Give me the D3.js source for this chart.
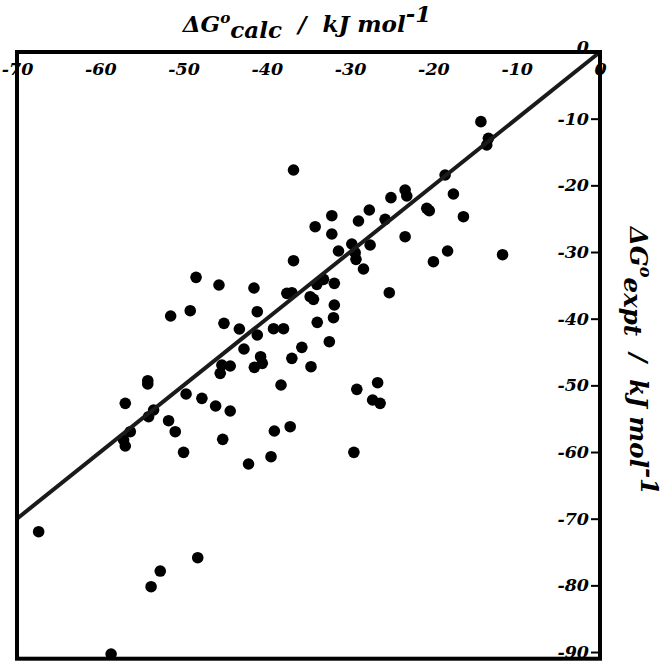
<!DOCTYPE html>
<html>
<head>
<meta charset="utf-8">
<script src="https://cdn.jsdelivr.net/npm/d3@7"></script>
<style>
  html, body { margin: 0; padding: 0; background: #fff; }
  svg { display: block; }
</style>
</head>
<body>
<svg id="chart" width="664" height="662"></svg>
<script>
// ---- data ----
const calcValues = [
  -14.3, -13.4, -13.6, -18.6, -17.6, -16.4, -11.7, -18.3, -20.0, -23.4,
  -23.2, -25.1, -20.8, -20.5, -23.4, -27.7, -25.8, -29.0, -32.2, -32.2,
  -34.2, -29.8, -29.4, -29.3, -27.6, -31.4, -28.4, -25.3, -31.9, -33.2,
  -34.0, -34.8, -34.4, -31.9, -32.0, -33.95, -32.5, -35.8, -34.7, -36.8,
  -36.8, -48.5, -45.75, -41.55, -37.6, -37.0, -51.55, -49.2, -41.15, -45.15,
  -43.3, -41.15, -39.2, -38.0, -42.75, -40.75, -40.55, -37.0, -45.4, -44.4,
  -41.5, -45.6, -49.7, -47.8, -46.15, -44.4, -51.8, -51.0, -54.3, -54.3,
  -53.6, -54.2, -57.0, -56.4, -57.2, -57.0, -45.3, -39.1, -37.2, -38.3,
  -29.2, -26.7, -27.3, -26.4, -29.55, -50.0, -42.2, -39.5, -67.4, -48.3,
  -52.8, -53.9, -58.7
];
const exptValues = [
  -10.45, -12.95, -13.95, -18.45, -21.3, -24.7, -30.4, -29.85, -31.45, -20.7,
  -21.6, -21.85, -23.45, -23.8, -27.7, -23.7, -25.1, -25.35, -24.55, -27.3,
  -26.2, -28.8, -30.1, -31.1, -28.95, -29.85, -32.55, -36.1, -34.7, -34.1,
  -34.85, -36.7, -37.1, -37.95, -39.85, -40.55, -43.45, -44.3, -47.2, -17.7,
  -31.3, -33.8, -34.95, -35.4, -36.2, -36.1, -39.6, -38.8, -38.95, -40.7,
  -41.55, -42.45, -41.5, -41.5, -44.55, -45.7, -46.7, -45.95, -46.95, -47.1,
  -47.3, -48.2, -51.3, -51.95, -53.1, -53.85, -55.3, -56.95, -49.3, -49.8,
  -53.7, -54.7, -52.7, -56.95, -58.2, -59.1, -58.1, -56.85, -56.2, -49.95,
  -50.6, -49.6, -52.2, -52.7, -60.05, -60.05, -61.8, -60.7, -71.95, -75.85,
  -77.85, -80.2, -90.3
];
const xTicks = [-70, -60, -50, -40, -30, -20, -10, 0];
const yTicks = [0, -10, -20, -30, -40, -50, -60, -70, -80, -90];
const xDomain = [-70, 0];
const yDomain = [0, -91];
const identityLine = [-70, 0];

// ---- layout ----
const svg = d3.select("#chart");
const pL = 17, pR = 600, pT = 52, pB = 658.7;
const x = d3.scaleLinear().domain(xDomain).range([pL, pR]);
const y = d3.scaleLinear().domain(yDomain).range([pT, pB]);
const tickFont = "'DejaVu Serif', 'Liberation Serif', serif";

// points
const pts = calcValues.map((c, i) => ({ c, e: exptValues[i] }));
svg.append("g").selectAll("circle").data(pts).join("circle")
  .attr("cx", d => x(d.c))
  .attr("cy", d => y(d.e))
  .attr("r", 5.8)
  .attr("fill", "#000");

// y = x line
svg.append("line")
  .attr("x1", x(identityLine[0])).attr("y1", y(identityLine[0]))
  .attr("x2", x(identityLine[1])).attr("y2", y(identityLine[1]))
  .attr("stroke", "#1a1a1a").attr("stroke-width", 4);

// frame
svg.append("rect")
  .attr("x", pL).attr("y", pT)
  .attr("width", pR - pL).attr("height", pB - pT)
  .attr("fill", "none").attr("stroke", "#000").attr("stroke-width", 4);

// top (x) axis: labels below the top line
const xAxis = d3.axisBottom(x).tickValues(xTicks).tickSizeInner(0).tickSizeOuter(0)
  .tickPadding(11).tickFormat(d => String(d));
const gx = svg.append("g").attr("transform", `translate(0,${pT})`).call(xAxis);
gx.select(".domain").remove();
gx.selectAll("text").attr("font-family", tickFont).attr("font-style", "italic")
  .attr("font-weight", "bold").attr("font-size", 17.5).attr("fill", "#000");

// right (y) axis: labels to the left of the right line
const yAxis = d3.axisLeft(y).tickValues(yTicks).tickSizeInner(9).tickSizeOuter(0)
  .tickPadding(2).tickFormat(d => String(d));
const gy = svg.append("g").attr("transform", `translate(${pR},0)`).call(yAxis);
gy.select(".domain").remove();
gy.selectAll("line").attr("stroke", "#000").attr("stroke-width", 2);
gy.selectAll("text").attr("font-family", tickFont).attr("font-style", "italic")
  .attr("font-weight", "bold").attr("font-size", 17.5).attr("fill", "#000");
gy.selectAll(".tick").filter(d => d === 0).select("line").remove();
gy.selectAll(".tick").filter(d => d === 0).select("text").attr("dy", "0.05em");

// titles
function label(g, sub, fs) {
  g.append("tspan").text("ΔG");
  g.append("tspan").text("o").attr("font-size", fs * 0.66).attr("dy", -fs * 0.4);
  g.append("tspan").text(sub).attr("dy", fs * 0.64);
  g.append("tspan").text("\u00A0\u00A0/\u00A0\u00A0kJ mol").attr("dy", -fs * 0.24);
  g.append("tspan").text("-1").attr("dy", -fs * 0.45);
}
const t1 = svg.append("text")
  .attr("x", 307).attr("y", 32)
  .attr("text-anchor", "middle")
  .attr("font-family", "'DejaVu Serif', serif").attr("font-style", "italic")
  .attr("font-weight", "bold")
  .attr("font-size", 23).attr("fill", "#000");
label(t1, "calc", 23);

const t2 = svg.append("text")
  .attr("transform", "translate(630,361) rotate(90)")
  .attr("text-anchor", "middle")
  .attr("font-family", "'DejaVu Serif', serif").attr("font-style", "italic")
  .attr("font-weight", "bold")
  .attr("font-size", 24.5).attr("fill", "#000");
label(t2, "expt", 24.5);
</script>
</body>
</html>
